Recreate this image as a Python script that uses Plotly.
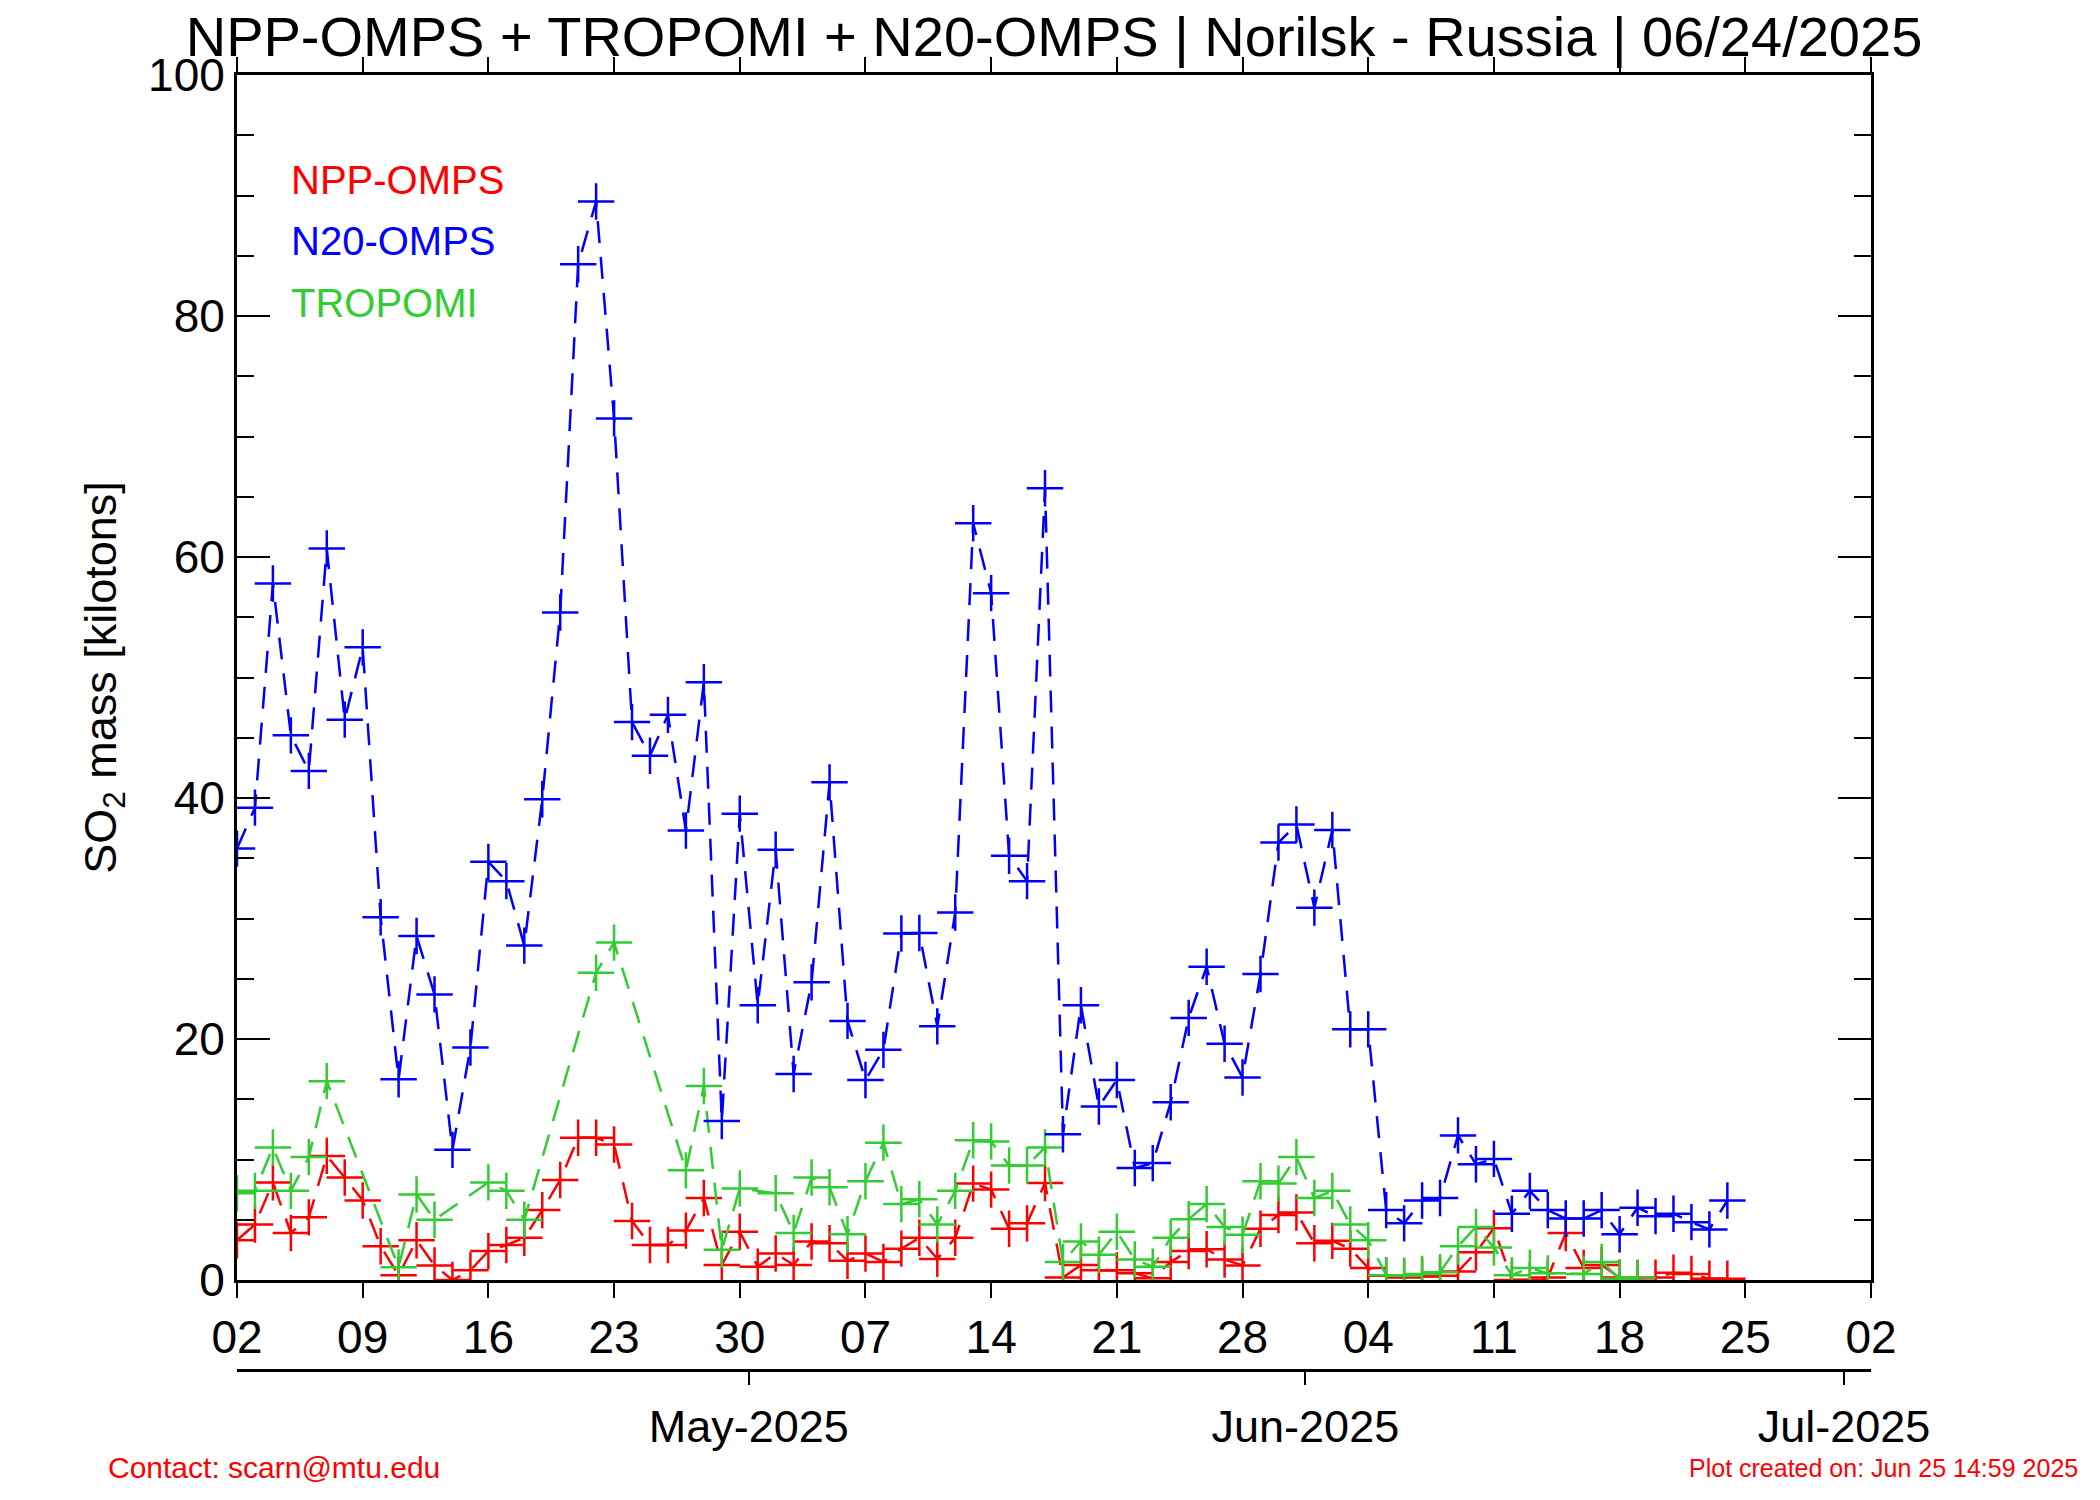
import pandas as pd
import plotly.graph_objects as go

# dias de 02/04/2025 ate 24/06/2025
datas = pd.date_range('2025-04-02', periods=84, freq='D')

# SO2 [kt] - N20-OMPS
n20_omps = [35.8, 39.2, 57.8, 45.2, 42.25, 60.7, 46.5, 52.5, 30.1, 16.65,
            28.55, 23.7, 10.8, 19.3, 34.7, 33.1, 27.75, 39.9, 55.4, 84.3,
            89.5, 71.5, 46.3, 43.5, 46.9, 37.3, 49.6, 13.2, 38.7, 22.8,
            35.7, 17.1, 24.7, 41.3, 21.5, 16.6, 19.1, 28.75, 28.8, 21.05,
            30.5, 62.8, 57.0, 35.2, 33.1, 65.7, 12.1, 22.8, 14.4, 16.6,
            9.3, 9.7, 14.75, 21.75, 26.0, 19.6, 16.8, 25.4, 36.3, 37.8,
            30.9, 37.35, 20.8, 20.8, 5.8, 4.7, 6.6, 6.8, 12.0, 9.6,
            10.05, 5.5, 7.4, 5.8, 5.1, 5.1, 5.8, 3.8, 6.0, 5.3,
            5.5, 4.8, 4.2, 6.6]

# SO2 [kt] - NPP-OMPS
npp_omps = [3.3, 4.6, 8.1, 3.9, 5.2, 10.3, 8.5, 6.6, 2.8, 0.4,
            3.3, 1.2, 0.0, 0.8, 2.4, 2.9, 3.5, 5.8, 8.3, 11.8,
            11.8, 11.25, 4.9, 2.9, 2.9, 4.1, 6.8, 1.25, 4.0, 1.1,
            2.2, 1.25, 3.2, 3.05, 1.6, 2.2, 1.5, 2.6, 3.5, 1.75,
            3.5, 8.0, 7.5, 4.25, 4.7, 8.05, 0.2, 1.25, 0.8, 0.8,
            0.55, 0.15, 1.5, 2.4, 2.55, 1.7, 1.2, 4.25, 5.4, 5.6,
            3.05, 3.25, 2.6, 1.0, 0.35, 0.2, 0.3, 0.35, 0.7, 2.3,
            4.3, 0.0, 0.0, 0.2, 3.9, 1.0, 1.25, 0.2, 0.15, 0.2,
            0.6, 0.5, 0.1, 0.1]

# SO2 [kt] - TROPOMI (None = sem dado)
tropomi = [7.2, 7.4, 11.0, 7.4, 10.2, 16.5, None, None, None, 1.05,
           7.1, 5.0, None, None, 8.1, 7.4, 5.0, None, None, None,
           25.5, 28.0, None, None, None, 9.1, 16.1, 2.5, 7.6, None,
           7.2, 3.9, 8.5, 7.7, 3.8, 8.2, 11.4, 6.3, 6.7, 4.6,
           7.4, 11.6, 11.5, 9.5, 9.5, 11.0, 1.5, 3.2, 2.1, 4.0,
           1.7, 1.1, 3.5, 5.05, 6.3, 4.4, 3.75, 8.2, 8.0, 10.2,
           6.8, 7.4, 4.6, 3.3, 0.4, 0.35, 0.5, 0.65, 2.8, 4.4,
           2.7, 0.4, 1.0, 0.55, None, 0.5, 1.5, 0.1, 0.2, None,
           None, None, None, None]

# eixo de meses
meses_pos = ['2025-04-30 12:00', '2025-05-31 12:00', '2025-06-30 12:00']
meses_txt = ['May-2025', 'Jun-2025', 'Jul-2025']

fonte = 'Liberation Sans, Arial, Helvetica, sans-serif'
series = [('NPP-OMPS', npp_omps, '#FF0000'),
          ('N20-OMPS', n20_omps, '#0000FF'),
          ('TROPOMI', tropomi, '#32CD32')]

fig = go.Figure()
#---
for nome, valores, cor in [series[0], series[2], series[1]]:
    fig.add_scatter(x=datas, y=valores, mode='lines+markers', name=nome, connectgaps=True,
                    line=dict(color=cor, width=2.5, dash='22px,14px'),
                    marker=dict(symbol='cross-thin', size=26, color=cor, line=dict(color=cor, width=2.5)))
# traco vazio so para desenhar o eixo de meses
fig.add_scatter(x=[], y=[], xaxis='x2', showlegend=False)
#---
# legenda como texto colorido
for i, (nome, valores, cor) in enumerate(series):
    fig.add_annotation(text=nome, xref='paper', yref='paper', x=0.0318, y=0.919 - i*0.0475,
                       xanchor='left', yanchor='middle', showarrow=False,
                       font=dict(family=fonte, size=40, color=cor))
fig.add_annotation(text='Contact: scarn@mtu.edu', xref='paper', yref='paper', x=-0.0802, y=-0.075,
                   xanchor='left', yanchor='middle', showarrow=False,
                   font=dict(family=fonte, size=30, color='#FF0000'))
fig.add_annotation(text='Plot created on: Jun 25 14:59 2025', xref='paper', yref='paper', x=1.128, y=-0.076,
                   xanchor='right', yanchor='middle', showarrow=False,
                   font=dict(family=fonte, size=25, color='#FF0000'))
#---
fig.update_layout(width=2092, height=1492, showlegend=False, template='simple_white',
                  plot_bgcolor='white', paper_bgcolor='white',
                  font=dict(family=fonte, size=46, color='black'),
                  margin=dict(l=229, r=229, t=67, b=130, autoexpand=False),
                  title=dict(text='NPP-OMPS + TROPOMI + N20-OMPS | Norilsk - Russia | 06/24/2025',
                             x=0.5, xref='paper', xanchor='center', y=0.981, yanchor='middle',
                             font=dict(family=fonte, size=56, color='black')))
fig.update_layout(xaxis=dict(type='date', range=['2025-04-02', '2025-07-02'], tick0='2025-04-02',
                             dtick=7*86400000, tickformat='%d',
                             showline=True, linewidth=3, linecolor='black', mirror='ticks', ticks='outside',
                             ticklen=15, tickwidth=2, tickcolor='black', showgrid=False, zeroline=False,
                             ticklabelstandoff=0, tickfont=dict(size=46)),
                  xaxis2=dict(type='date', overlaying='x', anchor='free', position=0, side='bottom',
                              range=['2025-04-02', '2025-07-02'], tickmode='array',
                              tickvals=meses_pos, ticktext=meses_txt,
                              showline=True, linewidth=3, linecolor='black', ticks='outside',
                              ticklen=13, tickwidth=2, tickcolor='black', showgrid=False, zeroline=False,
                              ticklabelstandoff=3, tickfont=dict(size=45)))
fig.update_yaxes(domain=[0.0695, 1], range=[0, 100], dtick=20, showline=True, linewidth=3, linecolor='black',
                 mirror='ticks', ticks='inside', ticklen=33, tickwidth=2, tickcolor='black',
                 minor=dict(dtick=5, ticks='inside', ticklen=17, tickwidth=2, tickcolor='black'),
                 showgrid=False, zeroline=False, tickfont=dict(size=46), ticklabelstandoff=0,
                 automargin=False,
                 title=dict(text='SO<sub>2</sub> mass [kilotons]', standoff=18, font=dict(size=45)))
fig.write_html('out.html')
